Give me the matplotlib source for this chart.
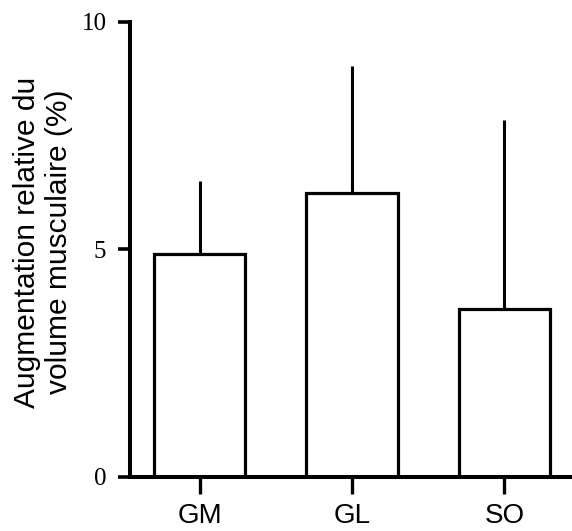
import numpy as np
import matplotlib
matplotlib.use("Agg")
import matplotlib.pyplot as plt

# data
muscles = ["GM", "GL", "SO"]
means = [4.9, 6.24, 3.69]
sd_up = [1.6, 2.8, 4.15]
yticks = [0, 5, 10]

plt.rcParams['font.family'] = ['Liberation Sans', 'DejaVu Sans']

fig = plt.figure(figsize=(5.72, 5.31), dpi=100)
ax = fig.add_axes([0.2273, 0.1017, 0.7727, 0.8569])

x = np.arange(len(muscles))
ax.errorbar(x, means, yerr=[np.zeros(len(sd_up)), sd_up], fmt='none',
            ecolor='black', elinewidth=2.2, capsize=0, zorder=1)
ax.bar(x, means, width=0.6, color='white', edgecolor='black',
       linewidth=2.3, zorder=2)

ax.set_xlim(-0.456, 2.443)
ax.set_ylim(0, 10)
ax.set_xticks(x)
ax.set_xticklabels(muscles)
ax.set_yticks(yticks)

for s in ['top', 'right']:
    ax.spines[s].set_visible(False)
for s in ['left', 'bottom']:
    ax.spines[s].set_linewidth(2.9)
ax.tick_params(axis='x', length=12, width=2.4, pad=7, labelsize=20)
ax.tick_params(axis='y', length=9, width=2.6, pad=8, labelsize=18)
for lab in ax.get_yticklabels():
    lab.set_fontfamily('Liberation Serif')

ax.set_ylabel("Augmentation relative du\nvolume musculaire (%)", fontsize=21.5)
ax.yaxis.set_label_coords(-0.129, 0.516)

fig.savefig("out.png", dpi=100)
